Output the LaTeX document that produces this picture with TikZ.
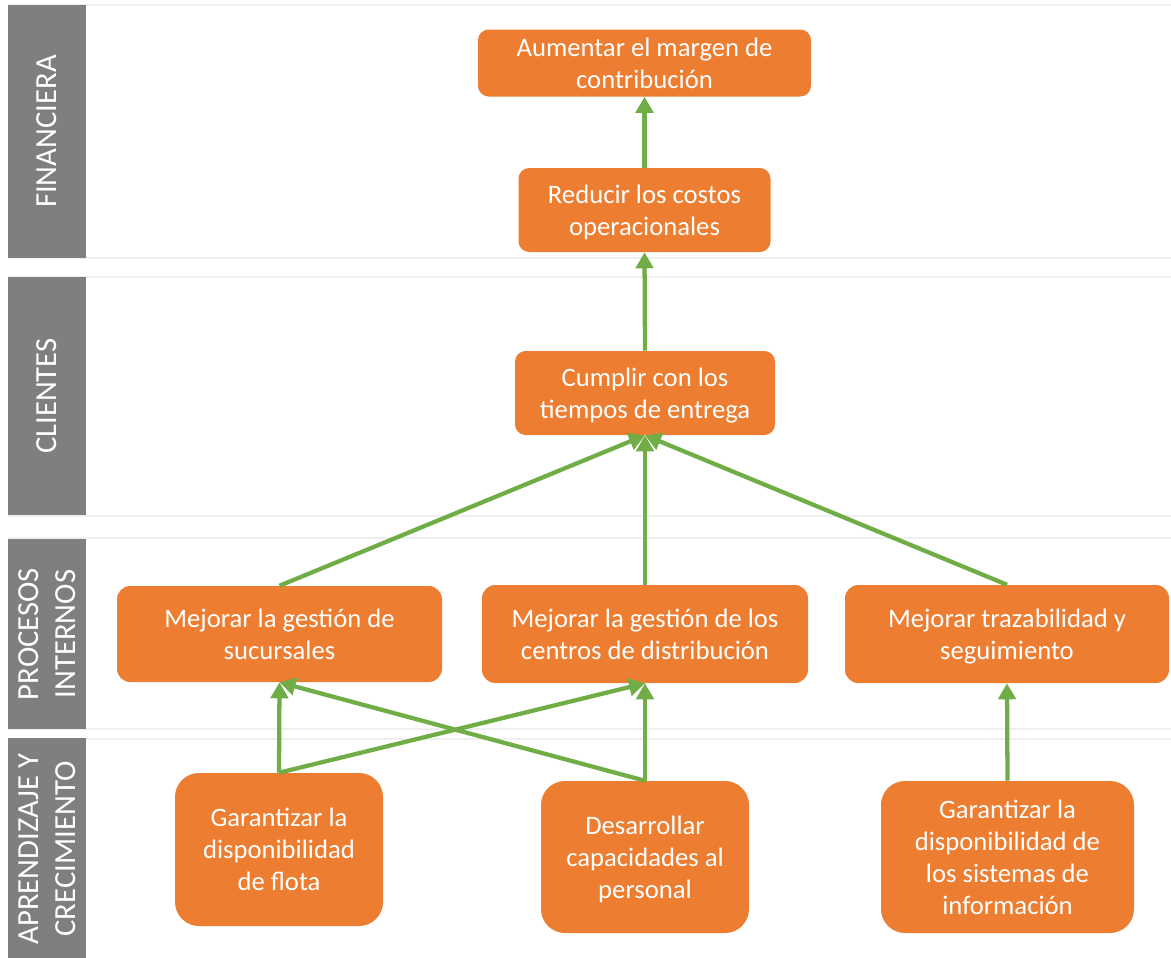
\documentclass[tikz,border=0pt]{standalone}
\usepackage{fontspec}
\setmainfont{Carlito}
\usetikzlibrary{arrows.meta}
\definecolor{boxorange}{HTML}{ED7D31}
\definecolor{arrowgreen}{HTML}{70AD47}
\definecolor{bandgray}{HTML}{7F7F7F}
\definecolor{ruleline}{HTML}{EFEFEF}

\begin{document}
\begin{tikzpicture}[x=0.75pt,y=-0.75pt,
  goal/.style={shape=rectangle, fill=boxorange, text=white, rounded corners=#1,
    align=center, inner sep=0pt, font=\fontsize{20}{24}\selectfont},
  goal/.default=8pt,
  bandlabel/.style={shape=rectangle, fill=bandgray, text=white, rotate=90,
    align=center, inner sep=0pt, minimum height=58.5pt,
    font=\fontsize{23}{28}\selectfont},
  bandrule/.style={draw=ruleline, line width=1.5pt},
  flow/.style={draw=arrowgreen, line width=3.2pt,
    -{Triangle[length=12pt,width=13pt]}}]

\useasboundingbox (0,0) rectangle (1171,957);

% thin rules framing each perspective band
\foreach \yy in {5,258,277,516,538,729,739}
  \draw[bandrule] (8,\yy) -- (1175,\yy);

% perspective labels
\node[bandlabel, minimum width=189.75pt] (bFin) at (47,131.5) {FINANCIERA};
\node[bandlabel, minimum width=178.5pt]  (bCli) at (47,396)   {CLIENTES};
\node[bandlabel, minimum width=142.5pt]  (bPro) at (47,634)   {PROCESOS\\INTERNOS};
\node[bandlabel, minimum width=166.5pt]  (bApr) at (47,849)   {APRENDIZAJE Y\\CRECIMIENTO};

% strategic objectives (descenders on the last line are smashed so the
% lines sit centred on their baselines)
\node[goal, minimum width=249.75pt, minimum height=50.25pt] (n1) at (644.5,63)
  {Aumentar el margen de\\contribución};
\node[goal, minimum width=189pt, minimum height=63pt] (n2) at (644.5,210)
  {Reducir los costos\\\smash{operacionales}};
\node[goal, minimum width=195pt, minimum height=63pt] (n3) at (645,393)
  {Cumplir con los\\\smash{tiempos de entrega}};
\node[goal=10pt, minimum width=243.75pt, minimum height=72pt] (n4) at (279.5,634)
  {Mejorar la gestión de\\sucursales};
\node[goal=10pt, minimum width=244.5pt, minimum height=73.5pt] (n5) at (645,634)
  {Mejorar la gestión de los\\centros de distribución};
\node[goal=10pt, minimum width=243pt, minimum height=73.5pt] (n6) at (1007,634)
  {Mejorar trazabilidad y\\\smash{seguimiento}};
\node[goal=18pt, minimum width=156pt, minimum height=114.75pt] (n7) at (279,849.5)
  {Garantizar la\\disponibilidad\\de flota};
\node[goal=18pt, minimum width=156pt, minimum height=114pt] (n8) at (645,857)
  {Desarrollar\\capacidades al\\\smash{personal}};
\node[goal=18pt, minimum width=189.75pt, minimum height=114pt] (n9) at (1007.5,857)
  {Garantizar la\\disponibilidad de\\los sistemas de\\información};

% cause-effect links
\draw[flow] (n2.north) -- (n1.south);
\draw[flow] (n3.north) -- (n2.south);
\draw[flow] (n4.north) -- (n3.south);
\draw[flow] (n5.north) -- (n3.south);
\draw[flow] (n6.north) -- (n3.south);
\draw[flow] (n7.north) -- (n4.south);
\draw[flow] (n7.north) -- (n5.south);
\draw[flow] (n8.north) -- (n5.south);
\draw[flow] (n8.north) -- (n4.south);
\draw[flow] (n9.north) -- (n6.south);
\end{tikzpicture}
\end{document}
